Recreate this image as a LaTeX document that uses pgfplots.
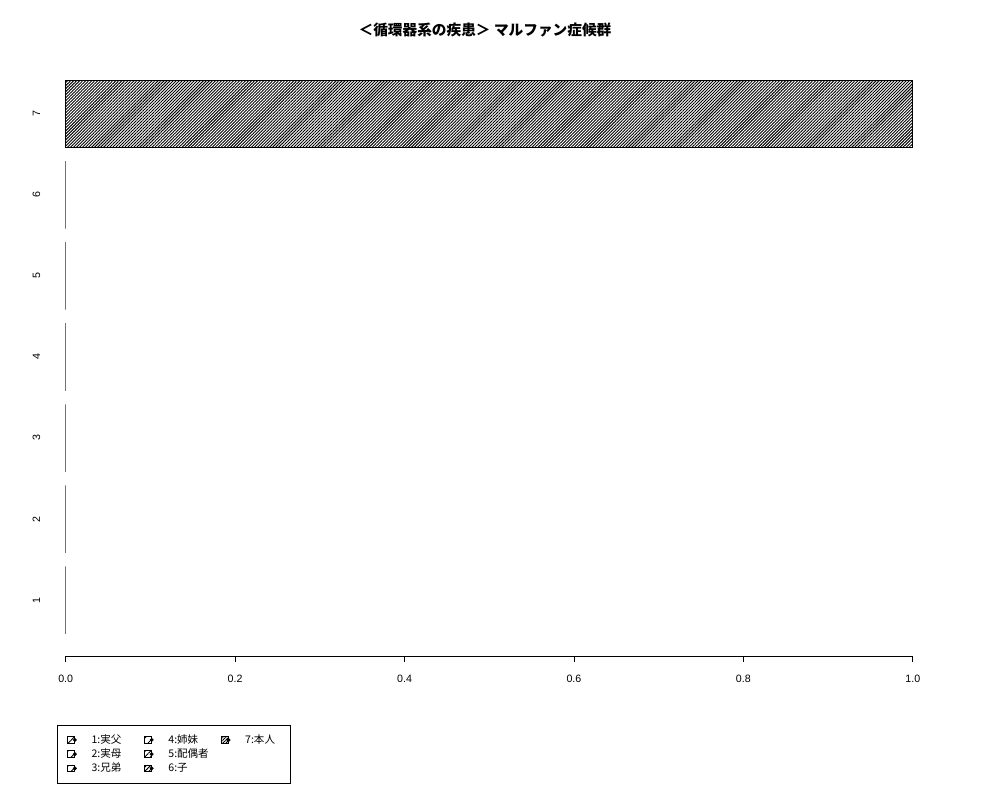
\documentclass[border=0pt]{standalone}
\usepackage{pgfplots}
\pgfplotsset{compat=1.18}
\usetikzlibrary{patterns.meta}
\usepackage{fontspec}
\setmainfont{Liberation Sans}
\newfontfamily\cjk{Noto Sans CJK JP}

\pgfplotsset{
  hatch/.style={draw=black, line width=0.5pt, pattern={Lines[angle=45,distance=#1,line width=0.7pt]}},
  boxlegend/.style={legend image code/.code={
    \draw[##1] (0pt,-2.4pt) rectangle (5.2pt,2.6pt);
    \fill[black] (5.4pt,0.1pt) circle (1.2pt);}}
}

\begin{document}
\begin{tikzpicture}
\useasboundingbox (0,0) rectangle (750pt,600pt);
\begin{axis}[
  at={(17.25pt,108pt)}, anchor=south west,
  scale only axis, width=693pt, height=448.5pt,
  xmin=-0.0504, xmax=1.0404, ymin=-0.128, ymax=8.728,
  axis line style={draw=none},
  /pgf/number format/assume math mode=true,
  tick label style={font=\fontsize{8}{9.6}\selectfont},
  xtick={0,0.2,0.4,0.6,0.8,1},
  xticklabels={0.0,0.2,0.4,0.6,0.8,1.0},
  xticklabel style={yshift=-6pt},
  xtick pos=bottom, tick align=outside, major tick length=4.5pt,
  xtick style={black, line width=0.6pt},
  ytick={0.7,1.9,3.1,4.3,5.5,6.7,7.9},
  yticklabels={1,2,3,4,5,6,7},
  ytick pos=left, ytick style={draw=none},
  yticklabel style={rotate=90, anchor=center, yshift=-14.6pt},
  title={\cjk\bfseries ＜循環器系の疾患＞ マルファン症候群},
  title style={font=\fontsize{11}{13}\selectfont, anchor=center, at={(0.5,1)}, yshift=15pt},
  legend columns=3,
  legend cell align=left,
  legend style={draw=black, line width=0.5pt, at={(0.0368,-0.1154)}, anchor=north west,
    font=\cjk\fontsize{7.9}{9}\selectfont, row sep=1.5pt,
    inner xsep=7.5pt, inner ysep=6.5pt,
    nodes={inner xsep=2.6pt, inner ysep=0.5pt},
    /tikz/every odd column/.append style={column sep=8.5pt},
    /tikz/every even column/.append style={column sep=2.3pt}},
]
% legend, filled column by column as in the original
\addlegendimage{boxlegend, hatch=6pt}\addlegendentry{\makebox[34.5pt][l]{1:実父}}
\addlegendimage{boxlegend, hatch=4pt}\addlegendentry{\makebox[34.5pt][l]{4:姉妹}}
\addlegendimage{boxlegend, hatch=1.6pt}\addlegendentry{\makebox[24pt][l]{7:本人}}
\addlegendimage{boxlegend, hatch=5pt}\addlegendentry{\makebox[34.5pt][l]{2:実母}}
\addlegendimage{boxlegend, hatch=3pt}\addlegendentry{\makebox[34.5pt][l]{5:配偶者}}
\addlegendimage{empty legend}\addlegendentry{}
\addlegendimage{boxlegend, hatch=4.5pt}\addlegendentry{\makebox[34.5pt][l]{3:兄弟}}
\addlegendimage{boxlegend, hatch=2.2pt}\addlegendentry{\makebox[34.5pt][l]{6:子}}

\addplot[xbar, bar width=1, hatch=6pt, draw=black!55, forget plot] coordinates {(0,0.7)};
\addplot[xbar, bar width=1, hatch=5pt, draw=black!55, forget plot] coordinates {(0,1.9)};
\addplot[xbar, bar width=1, hatch=4.5pt, draw=black!55, forget plot] coordinates {(0,3.1)};
\addplot[xbar, bar width=1, hatch=4pt, draw=black!55, forget plot] coordinates {(0,4.3)};
\addplot[xbar, bar width=1, hatch=3pt, draw=black!55, forget plot] coordinates {(0,5.5)};
\addplot[xbar, bar width=1, hatch=2.2pt, draw=black!55, forget plot] coordinates {(0,6.7)};
\addplot[xbar, bar width=1, hatch=1.6pt, forget plot] coordinates {(1,7.9)};

\draw[line width=0.6pt] (axis cs:0,-0.128) -- (axis cs:1,-0.128);
\end{axis}
\end{tikzpicture}
\end{document}
